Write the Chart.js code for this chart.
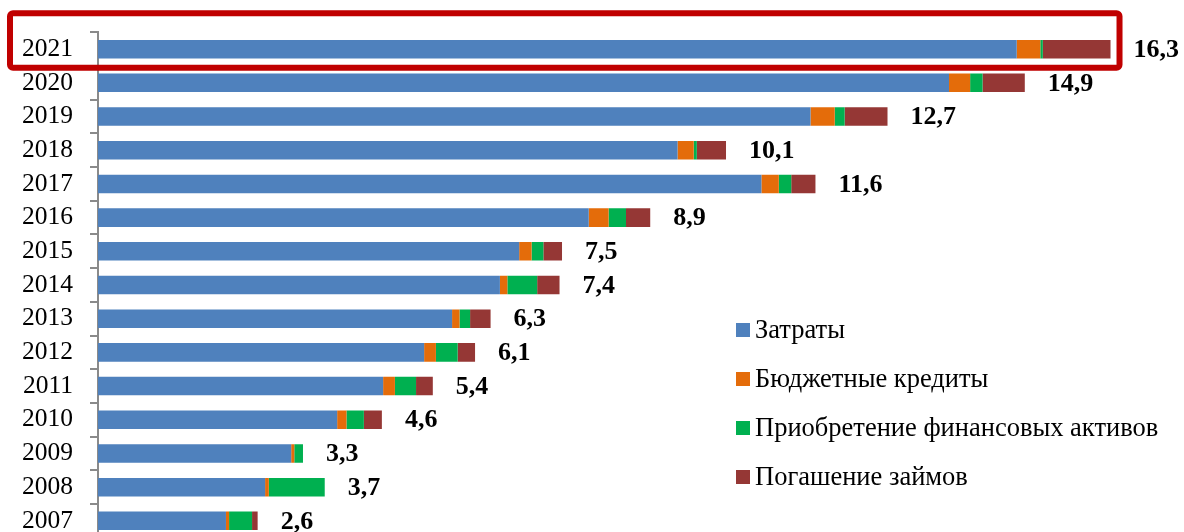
<!DOCTYPE html>
<html>
<head>
<meta charset="utf-8">
<script src="https://cdn.jsdelivr.net/npm/chart.js@4.4.1/dist/chart.umd.min.js"></script>
<style>
  html, body { margin: 0; padding: 0; background: #fff; overflow: hidden; }
  canvas { display: block; }
</style>
</head>
<body>
<canvas id="financeChart" width="1184" height="570"></canvas>
<script>
const years = ["2021", "2020", "2019", "2018", "2017", "2016", "2015", "2014",
  "2013", "2012", "2011", "2010", "2009", "2008", "2007"];
const zatraty = [14.79, 13.70, 11.47, 9.33, 10.68, 7.90, 6.78, 6.47, 5.70, 5.25, 4.59, 3.85, 3.11, 2.69, 2.06];
const budgetCredits = [0.38, 0.34, 0.39, 0.26, 0.28, 0.32, 0.20, 0.12, 0.12, 0.19, 0.19, 0.15, 0.05, 0.06, 0.05];
const finAssets = [0.04, 0.20, 0.16, 0.05, 0.20, 0.28, 0.19, 0.48, 0.17, 0.35, 0.34, 0.28, 0.14, 0.90, 0.37];
const loanRepay = [1.09, 0.68, 0.69, 0.47, 0.39, 0.39, 0.30, 0.36, 0.33, 0.28, 0.27, 0.29, 0, 0, 0.09];
const totals = ["16,3", "14,9", "12,7", "10,1", "11,6", "8,9", "7,5", "7,4",
  "6,3", "6,1", "5,4", "4,6", "3,3", "3,7", "2,6"];

const serif = '"Liberation Serif", "Times New Roman", serif';

// подписи итогов, легенда и рамка вокруг 2021
const extrasPlugin = {
  id: "extras",
  afterDraw(chart) {
    const ctx = chart.ctx;
    const xs = chart.scales.x;
    const ys = chart.scales.y;
    ctx.save();

    ctx.fillStyle = "#000";
    ctx.font = "bold 26px " + serif;
    ctx.textAlign = "left";
    ctx.textBaseline = "middle";
    years.forEach((y, i) => {
      let sum = 0;
      chart.data.datasets.forEach(ds => { sum += ds.data[i]; });
      ctx.fillText(totals[i], xs.getPixelForValue(sum) + 23, ys.getPixelForValue(i) + 1);
    });

    ctx.font = "26.5px " + serif;
    chart.data.datasets.forEach((ds, k) => {
      const cy = 330 + k * 49;
      ctx.fillStyle = ds.backgroundColor;
      ctx.fillRect(736, cy - 7, 14, 14);
      ctx.fillStyle = "#000";
      ctx.fillText(ds.label, 755, cy + 1);
    });

    let sum0 = 0;
    chart.data.datasets.forEach(ds => { sum0 += ds.data[0]; });
    const cy0 = ys.getPixelForValue(0);
    const right = xs.getPixelForValue(sum0) + 9;
    ctx.strokeStyle = "#C00000";
    ctx.lineWidth = 6;
    ctx.beginPath();
    ctx.roundRect(10, cy0 - 36, right - 10, 54.5, 3);
    ctx.stroke();
    ctx.restore();
  }
};

const ctx = document.getElementById("financeChart").getContext("2d");

new Chart(ctx, {
  type: "bar",
  data: {
    labels: years,
    datasets: [
      { label: "Затраты", data: zatraty, backgroundColor: "#4F81BD" },
      { label: "Бюджетные кредиты", data: budgetCredits, backgroundColor: "#E46C0A" },
      { label: "Приобретение финансовых активов", data: finAssets, backgroundColor: "#00B050" },
      { label: "Погашение займов", data: loanRepay, backgroundColor: "#953735" },
    ],
  },
  options: {
    indexAxis: "y",
    responsive: false,
    animation: false,
    datasets: {
      bar: { categoryPercentage: 1, barPercentage: 0.55 },
    },
    layout: { padding: { top: 30, bottom: 0, left: 0, right: 30 } },
    plugins: {
      legend: { display: false },
      tooltip: { enabled: false },
    },
    scales: {
      x: {
        stacked: true,
        display: false,
        min: 0,
        max: 17,
      },
      y: {
        stacked: true,
        afterFit(scale) { scale.width = 98; },
        border: { display: true, color: "#8a8a8a", width: 2 },
        grid: {
          offset: true,
          drawOnChartArea: false,
          drawTicks: true,
          tickLength: 8,
          color: "#8a8a8a",
          lineWidth: 2,
        },
        ticks: {
          color: "#000",
          padding: 17,
          font: { family: serif, size: 25.5 },
        },
      },
    },
  },
  plugins: [extrasPlugin],
});
</script>
</body>
</html>
